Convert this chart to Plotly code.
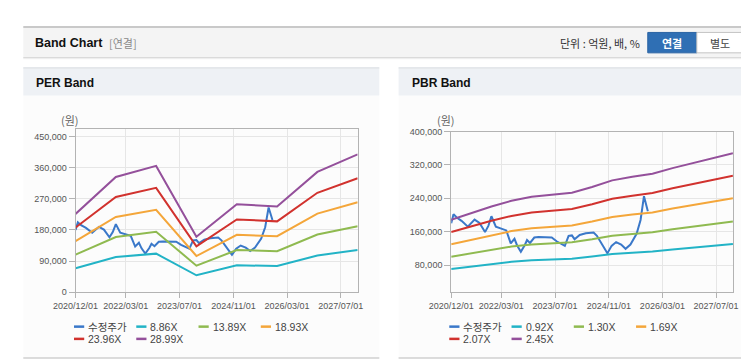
import plotly.graph_objects as go

# page body adds an 8px margin; the figure covers the visible part of the window
OFF = 8
W, H = 749 - OFF, 364 - OFF

# ---------------- data ----------------
price_dates = ['2020-12-01', '2020-12-22', '2021-01-20', '2021-03-05', '2021-05-01', '2021-07-01',
               '2021-08-15', '2021-10-04', '2021-11-03', '2021-12-01', '2022-01-10', '2022-03-20',
               '2022-04-15', '2022-05-25', '2022-06-28', '2022-07-22', '2022-08-25', '2022-09-30',
               '2022-10-20', '2022-11-16', '2022-12-25', '2023-02-01', '2023-04-01', '2023-06-01',
               '2023-07-15', '2023-09-28', '2023-11-01', '2023-12-01', '2023-12-25', '2024-02-10',
               '2024-04-05', '2024-06-15', '2024-07-15', '2024-09-10', '2024-10-18', '2024-11-25',
               '2025-01-05', '2025-02-20', '2025-04-01', '2025-05-15', '2025-07-10', '2025-08-15',
               '2025-09-15', '2025-10-20']
price_values = [180000, 202000, 194000, 186000, 172000, 189000,
                181000, 159000, 174000, 197000, 172000, 166000,
                163000, 132000, 143000, 127000, 112000, 128000,
                140000, 133000, 146000, 147000, 147000, 146000,
                137000, 126000, 150000, 151000, 142000, 152000,
                156000, 158000, 150000, 126000, 108000, 126000,
                135000, 129000, 119000, 129000, 155000, 188000,
                245000, 209000]

per_dates = ['2020-12-01', '2021-12-01', '2022-12-01', '2023-12-01', '2024-12-01',
             '2025-12-01', '2026-12-01', '2027-12-01']
per_886 = [69200, 101900, 111600, 49000, 77800, 75800, 106300, 121800]
per_1389 = [108500, 159700, 175000, 76800, 122000, 118800, 166700, 191000]
per_1893 = [147800, 217700, 238500, 104700, 166200, 161900, 227200, 260300]
per_2396 = [187100, 275500, 301900, 132500, 210400, 204900, 287500, 329500]
per_2899 = [226400, 333400, 365300, 160300, 254500, 247900, 347900, 398600]

pbr_dates = ['2020-12-01', '2021-06-01', '2021-12-01', '2022-06-01', '2022-12-01', '2023-06-01',
             '2023-12-01', '2024-06-01', '2024-12-01', '2025-06-01', '2025-12-01', '2026-06-01',
             '2026-12-01', '2027-06-01', '2027-12-01']
pbr_092 = [70800, 76800, 82800, 87900, 91500, 93400, 95200, 100300, 106300, 109500, 112200, 117300, 121700, 126100, 130600]
pbr_130 = [100100, 108600, 117000, 124200, 129400, 132000, 134600, 141700, 150200, 154700, 158600, 165800, 172000, 178200, 184600]
pbr_169 = [130100, 141100, 152100, 161400, 168200, 171500, 174900, 184200, 195200, 201100, 206200, 215500, 223600, 231700, 240000]
pbr_207 = [159400, 172800, 186300, 197700, 206000, 210100, 214200, 225600, 239100, 246300, 252500, 263900, 273900, 283800, 293900]
pbr_245 = [188700, 204600, 220500, 234000, 243800, 248700, 253600, 267100, 283000, 291600, 298900, 312400, 324100, 335900, 347900]

price_name = '수정주가'
per_names = ['8.86X', '13.89X', '18.93X', '23.96X', '28.99X']
pbr_names = ['0.92X', '1.30X', '1.69X', '2.07X', '2.45X']
band_colors = ['#22b3c6', '#8fba50', '#f4a63a', '#d1322e', '#94509b']
price_color = '#3a78c9'

x_tick_vals = ['2020-12-01', '2022-03-01', '2023-07-01', '2024-11-01', '2026-03-01', '2027-07-01']
x_tick_text = ['2020/12/01', '2022/03/01', '2023/07/01', '2024/11/01', '2026/03/01', '2027/07/01']
per_y_ticks = [0, 90000, 180000, 270000, 360000, 450000]
pbr_y_ticks = [80000, 160000, 240000, 320000, 400000]

# ---------------- helpers (window pixels -> paper) ----------------
def px(x):
    return (x - OFF) / W

def py(y):
    return 1 - (y - OFF) / H

FONT = 'Liberation Sans, Noto Sans CJK KR, sans-serif'
KFONT = 'Noto Sans CJK KR, Liberation Sans, sans-serif'

fig = go.Figure()

# PER panel traces
fig.add_trace(go.Scatter(x=price_dates, y=price_values, name=price_name, mode='lines',
                         line=dict(color=price_color, width=2), xaxis='x', yaxis='y'))
for nm, vals, col in zip(per_names, [per_886, per_1389, per_1893, per_2396, per_2899], band_colors):
    fig.add_trace(go.Scatter(x=per_dates, y=vals, name=nm, mode='lines',
                             line=dict(color=col, width=2), xaxis='x', yaxis='y'))

# PBR panel traces
fig.add_trace(go.Scatter(x=price_dates, y=price_values, name=price_name, mode='lines',
                         line=dict(color=price_color, width=2), xaxis='x2', yaxis='y2'))
for nm, vals, col in zip(pbr_names, [pbr_092, pbr_130, pbr_169, pbr_207, pbr_245], band_colors):
    fig.add_trace(go.Scatter(x=pbr_dates, y=vals, name=nm, mode='lines',
                             line=dict(color=col, width=2), xaxis='x2', yaxis='y2'))

# plot area positions (window pixels)
L1, R1, T1, B1 = 54.3, 347.5, 127.7, 295.3
L2, R2, T2, B2 = 444.7, 737.5, 130.0, 294.8

axis_common = dict(showgrid=True, gridcolor='#e6e6e6', gridwidth=1, showline=True, linecolor='#b3b3b3',
                   linewidth=1, mirror=True, ticks='outside', tickcolor='#b3b3b3', zeroline=False,
                   tickfont=dict(family=FONT, size=9, color='#555555'))

xcommon = dict(axis_common, type='date', range=['2020-12-01', '2027-12-01'], tickmode='array',
               tickvals=x_tick_vals, ticktext=x_tick_text, ticklen=5, fixedrange=True)

fig.update_layout(
    width=W, height=H, margin=dict(l=0, r=0, t=0, b=0),
    paper_bgcolor='white', plot_bgcolor='white', showlegend=False,
    xaxis=dict(xcommon, domain=[px(L1), px(R1)], anchor='y'),
    yaxis=dict(axis_common, domain=[py(B1), py(T1)], anchor='x', range=[0, 471000],
               tickmode='array', tickvals=per_y_ticks, tickformat=',', ticklen=6),
    xaxis2=dict(xcommon, domain=[px(L2), px(R2)], anchor='y2'),
    yaxis2=dict(axis_common, domain=[py(B2), py(T2)], anchor='x2', range=[16000, 400000],
                tickmode='array', tickvals=pbr_y_ticks, tickformat=',', ticklen=6),
)

shapes = []
annots = []

def rect(x0, y0, x1, y1, fill, line=None, lw=0):
    shapes.append(dict(type='rect', xref='paper', yref='paper', x0=px(x0), x1=px(x1), y0=py(y1), y1=py(y0),
                       fillcolor=fill, line=dict(color=line or fill, width=lw), layer='below'))

def hline(x0, x1, y, color, w=1):
    shapes.append(dict(type='line', xref='paper', yref='paper', x0=px(x0), x1=px(x1), y0=py(y), y1=py(y),
                       line=dict(color=color, width=w), layer='below'))

def text(x, y, s, size=11, color='#333', xanchor='left', bold=False, family=FONT):
    annots.append(dict(xref='paper', yref='paper', x=px(x), y=py(y), text=('<b>%s</b>' % s) if bold else s,
                       showarrow=False, xanchor=xanchor, yanchor='middle',
                       font=dict(family=family, size=size, color=color)))

# header bar
rect(0, 22, 760, 54, '#f4f4f4')
hline(0, 760, 22.5, '#c9c9c9', 2)
hline(0, 760, 54, '#d2d2d2', 1)
hline(0, 760, 55, '#ececec', 1)
text(10, 38.5, 'Band Chart', size=12.5, color='#111', bold=True)
text(87, 38.5, '[연결]', size=11, color='#8a8a8a', family=KFONT)
text(643, 38.5, '단위 : 억원, 배, %', size=11, color='#333', xanchor='right', family=KFONT)
rect(649, 28, 700, 49, '#2f6fb4', '#2a63a3', 1)
rect(700, 28, 748, 49, '#ffffff', '#c4c4c4', 1)
text(674.5, 38.5, '연결', size=11, color='#ffffff', xanchor='center', bold=True, family=KFONT)
text(724, 38.5, '별도', size=11, color='#444', xanchor='center', family=KFONT)

# panels
for (x0, x1, title, ylab_x) in [(0, 370, 'PER Band', 49), (390, 760, 'PBR Band', 439)]:
    rect(x0, 93, x1, 363, '#fcfcfc')
    rect(x0, 64, x1, 93, '#eef1f5')
    hline(x0, x1, 64.5, '#d9dce0', 1)
    hline(x0, x1, 363, '#d0d0d0', 1.5)
    text(x0 + 11.5, 80.5, title, size=12, color='#111', bold=True)
    text(ylab_x, 118, '(원)', size=11, color='#666', xanchor='center', family=KFONT)

# legends (custom, drawn from series names/colours)
def legend(x_start, names):
    entries = [(price_name, price_color)] + list(zip(names, band_colors))
    for i, (nm, col) in enumerate(entries):
        row, colidx = divmod(i, 4)
        x = x_start + colidx * 64.7
        y = 330.7 + row * 12.6
        shapes.append(dict(type='line', xref='paper', yref='paper', x0=px(x), x1=px(x + 10.6),
                           y0=py(y), y1=py(y), line=dict(color=col, width=2.5)))
        text(x + 12.5, y, nm, size=10.5, color='#444', family=FONT if nm != price_name else KFONT)

legend(52.7, per_names)
legend(442.7, pbr_names)

fig.update_layout(shapes=shapes, annotations=annots)

fig.write_html('out.html')
